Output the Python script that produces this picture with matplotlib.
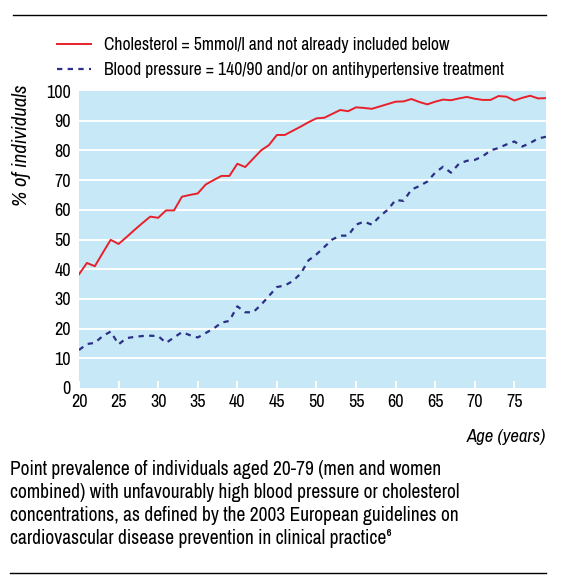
import matplotlib
matplotlib.use('Agg')
import matplotlib.pyplot as plt
from matplotlib.lines import Line2D

plt.rcParams['font.family'] = ['Archivo Narrow', 'DejaVu Sans']

# data
ages = list(range(20, 80))
cholesterol = [38.3, 42.1, 41.0, 45.5, 49.9, 48.5, 50.8, 53.2, 55.5, 57.7,
               57.3, 59.8, 59.8, 64.4, 65.0, 65.5, 68.5, 70.0, 71.4, 71.4,
               75.5, 74.4, 77.2, 80.0, 81.8, 85.2, 85.2, 86.6, 88.0, 89.5,
               90.8, 91.0, 92.3, 93.6, 93.2, 94.5, 94.3, 94.0, 94.8, 95.6,
               96.4, 96.5, 97.3, 96.3, 95.5, 96.4, 97.1, 96.9, 97.5, 98.0,
               97.4, 97.0, 97.0, 98.3, 98.1, 96.8, 97.7, 98.4, 97.5, 97.6]
blood_pressure = [12.8, 14.8, 15.2, 17.5, 19.0, 14.7, 16.8, 17.2, 17.5, 17.6,
                  17.5, 15.2, 17.0, 18.8, 17.8, 17.0, 18.5, 20.0, 22.0, 22.6,
                  27.5, 25.5, 25.5, 28.0, 31.0, 34.0, 34.5, 36.0, 38.5, 43.0,
                  45.0, 47.5, 50.0, 51.3, 51.3, 55.0, 56.0, 55.0, 57.8, 60.0,
                  63.3, 63.0, 66.8, 68.0, 69.5, 72.5, 74.5, 72.5, 75.5, 76.5,
                  76.8, 78.0, 80.0, 80.8, 82.0, 83.0, 81.3, 82.5, 84.0, 84.6]
chol_label = 'Cholesterol = 5mmol/l and not already included below'
bp_label = 'Blood pressure = 140/90 and/or on antihypertensive treatment'
xticks = [20, 25, 30, 35, 40, 45, 50, 55, 60, 65, 70, 75]
yticks = [0, 10, 20, 30, 40, 50, 60, 70, 80, 90, 100]

RED = '#E8202A'
NAVY = '#2B2F86'
BG = '#C6E8F7'
FS = 13

fig = plt.figure(figsize=(5.64, 5.85), dpi=100)
ax = fig.add_axes([79/564, 1 - 388/585, 467/564, 297/585])
ax.set_facecolor(BG)
for s in ax.spines.values():
    s.set_visible(False)

# white gridlines
for y in yticks[1:-1]:
    ax.axhline(y, color='white', lw=1.4, zorder=1)

ax.plot(ages, cholesterol, color=RED, lw=1.4, zorder=3)
ax.plot(ages, blood_pressure, color=NAVY, lw=1.6, linestyle=(0, (2.4, 2.4)), zorder=3)

ax.set_xlim(20, 79)
ax.set_ylim(0, 100)
ax.set_xticks(xticks)
ax.set_yticks(yticks)
ax.tick_params(axis='x', direction='in', length=5, width=1.4, color='white',
               labelsize=FS, pad=4)
ax.tick_params(axis='y', length=0, labelsize=FS, pad=6)

fig.text(22/564, 1 - 85/585, '% of individuals', rotation=90, style='italic',
         fontsize=15, ha='center', va='top')
fig.text(546/564, 1 - 437/585, 'Age (years)', style='italic', fontsize=13.5,
         ha='right', va='center')

handles = [Line2D([], [], color=RED, lw=1.4),
           Line2D([], [], color=NAVY, lw=1.6, linestyle=(0, (2.4, 2.4)))]
fig.legend(handles, [chol_label, bp_label], loc='upper left',
           bbox_to_anchor=(57/564, 1 - 37/585), frameon=False, fontsize=12.7,
           handlelength=1.9, handletextpad=0.75, labelspacing=0.5,
           borderpad=0, borderaxespad=0)

caption = ('Point prevalence of individuals aged 20-79 (men and women\n'
           'combined) with unfavourably high blood pressure or cholesterol\n'
           'concentrations, as defined by the 2003 European guidelines on\n'
           'cardiovascular disease prevention in clinical practice\u2076')
fig.text(10/564, 1 - 460/585, caption, fontsize=14, ha='left', va='top',
         linespacing=1.27)

fig.add_artist(Line2D([13/564, 546/564], [1 - 15/585, 1 - 15/585], color='black', lw=1.0))
fig.add_artist(Line2D([10/564, 546/564], [1 - 573/585, 1 - 573/585], color='black', lw=1.0))

fig.savefig('out.png', dpi=100)
